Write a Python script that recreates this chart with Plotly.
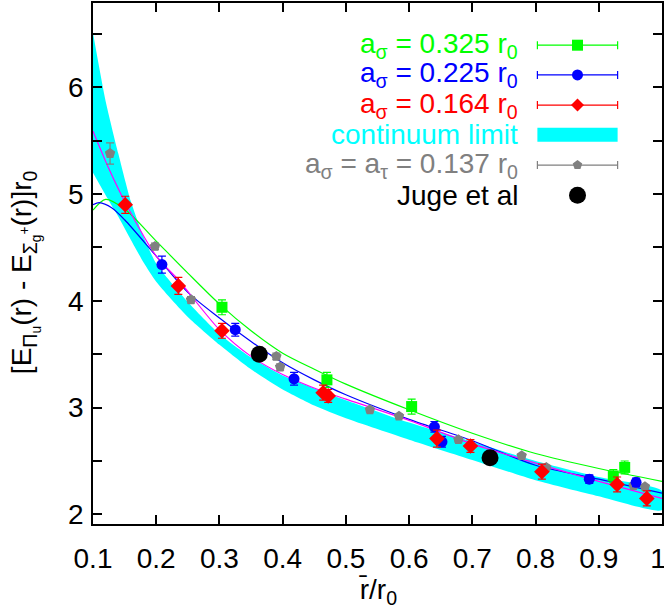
import plotly.graph_objects as go

# ---------------- data ----------------
green_x = [0.304, 0.470, 0.604, 0.923, 0.941]
green_y = [3.94, 3.26, 3.01, 2.36, 2.44]
green_e = [0.07, 0.07, 0.07, 0.06, 0.06]

blue_x = [0.209, 0.325, 0.418, 0.640, 0.652, 0.885, 0.959]
blue_y = [4.34, 3.73, 3.27, 2.82, 2.68, 2.33, 2.30]
blue_e = [0.08, 0.06, 0.06, 0.05, 0.05, 0.04, 0.04]

red_x = [0.151, 0.235, 0.304, 0.464, 0.472, 0.644, 0.697, 0.810, 0.929, 0.976]
red_y = [4.90, 4.14, 3.72, 3.14, 3.11, 2.71, 2.64, 2.40, 2.28, 2.15]
red_e = [0.08, 0.08, 0.07, 0.07, 0.06, 0.08, 0.06, 0.07, 0.07, 0.07]

gray_x = [0.127, 0.198, 0.255, 0.390, 0.396, 0.538, 0.584, 0.678, 0.778, 0.817, 0.955, 0.973]
gray_y = [5.38, 4.51, 4.01, 3.48, 3.38, 2.98, 2.92, 2.70, 2.55, 2.44, 2.27, 2.26]
gray_e = [0.10, 0.03, 0.03, 0.03, 0.03, 0.02, 0.02, 0.02, 0.02, 0.02, 0.02, 0.02]

juge_x = [0.363, 0.728]
juge_y = [3.50, 2.53]

band_x = [0.10, 0.12, 0.14, 0.16, 0.18, 0.20, 0.25, 0.30, 0.35, 0.40, 0.45, 0.50, 0.60, 0.70, 0.80, 0.90, 1.00]
band_hi = [6.51, 5.87, 5.38, 4.93, 4.60, 4.35, 3.99, 3.69, 3.47, 3.30, 3.18, 3.07, 2.86, 2.68, 2.50, 2.35, 2.22]
band_lo = [5.20, 4.99, 4.79, 4.57, 4.36, 4.18, 3.85, 3.59, 3.36, 3.17, 3.02, 2.90, 2.70, 2.51, 2.32, 2.17, 2.04]

green_fit_x = [0.10, 0.12, 0.15, 0.20, 0.25, 0.30, 0.35, 0.40, 0.45, 0.50, 0.60, 0.70, 0.80, 0.90, 1.00]
green_fit_y = [4.85, 4.95, 4.86, 4.56, 4.26, 3.97, 3.72, 3.51, 3.36, 3.22, 2.98, 2.76, 2.57, 2.43, 2.31]

blue_fit_x = [0.10, 0.11, 0.13, 0.15, 0.20, 0.25, 0.30, 0.35, 0.40, 0.45, 0.50, 0.60, 0.70, 0.80, 0.90, 1.00]
blue_fit_y = [4.90, 4.92, 4.87, 4.76, 4.42, 4.08, 3.84, 3.62, 3.42, 3.26, 3.12, 2.89, 2.69, 2.46, 2.33, 2.20]

mag_fit_x = [0.10, 0.125, 0.152, 0.20, 0.2345, 0.30, 0.35, 0.40, 0.46, 0.50, 0.60, 0.70, 0.80, 0.90, 1.00]
mag_fit_y = [5.59, 5.24, 4.91, 4.42, 4.20, 3.73, 3.48, 3.31, 3.16, 3.08, 2.88, 2.66, 2.48, 2.31, 2.15]

x_ticks = [0.1, 0.2, 0.3, 0.4, 0.5, 0.6, 0.7, 0.8, 0.9, 1.0]
x_labels = ["0.1", "0.2", "0.3", "0.4", "0.5", "0.6", "0.7", "0.8", "0.9", "1\u00a0"]
y_ticks = [2, 2.5, 3, 3.5, 4, 4.5, 5, 5.5, 6, 6.5]
y_labels = ["2", " ", "3", " ", "4", " ", "5", " ", "6", " "]

legend_labels = [
    "a<sub>σ</sub> = 0.325 r<sub>0</sub>",
    "a<sub>σ</sub> = 0.225 r<sub>0</sub>",
    "a<sub>σ</sub> = 0.164 r<sub>0</sub>",
    "continuum limit",
    "a<sub>σ</sub> = a<sub>τ</sub> = 0.137 r<sub>0</sub>",
    "Juge et al",
]

x_title = "r\u0304/r<sub>0</sub>"
y_title = "[E<sub>Π<sub>u</sub></sub>(r) - E<sub>Σ<sub>g</sub><sup>+</sup></sub>(r)]r<sub>0</sub>"

# ---------------- styles ----------------
GREEN = "#00ff00"
BLUE = "#0000ff"
RED = "#ff0000"
CYAN = "#00ffff"
GRAY = "#808080"
MAG = "#ff00ff"
FONT = "Liberation Sans"

fig = go.Figure()

# continuum band
fig.add_trace(go.Scatter(
    x=band_x + band_x[::-1], y=band_hi + band_lo[::-1],
    fill="toself", fillcolor=CYAN, line=dict(width=0, shape="spline", smoothing=0.6),
    mode="lines", hoverinfo="skip", showlegend=False))

# fit curves
for fx, fy, col in [(green_fit_x, green_fit_y, GREEN),
                    (blue_fit_x, blue_fit_y, BLUE),
                    (mag_fit_x, mag_fit_y, MAG)]:
    fig.add_trace(go.Scatter(x=fx, y=fy, mode="lines",
                             line=dict(color=col, width=1.2, shape="spline", smoothing=0.8),
                             showlegend=False))

def pts(x, y, e, col, sym, size):
    return go.Scatter(x=x, y=y, mode="markers",
                      marker=dict(color=col, symbol=sym, size=size, line=dict(width=0)),
                      error_y=dict(type="data", array=e, visible=True, color=col,
                                   thickness=1.2, width=4),
                      showlegend=False)

fig.add_trace(pts(gray_x, gray_y, gray_e, GRAY, "pentagon", 11))
fig.add_trace(pts(green_x, green_y, green_e, GREEN, "square", 11))
fig.add_trace(pts(blue_x, blue_y, blue_e, BLUE, "circle", 11))
fig.add_trace(pts(red_x, red_y, red_e, RED, "diamond", 12))
fig.add_trace(go.Scatter(x=juge_x, y=juge_y, mode="markers",
                         marker=dict(color="black", size=17, line=dict(width=0)),
                         showlegend=False))

# ---------------- hand-made key (overlay axes 0..1) ----------------
row_y = [0.919, 0.862, 0.804, 0.747, 0.689, 0.631]
text_x = 0.750
samp_x = 0.8515
samp_half = 0.0705
key_cols = [GREEN, BLUE, RED, CYAN, GRAY, "black"]
key_syms = ["square", "circle", "diamond", None, "pentagon", "circle"]
key_sizes = [11, 11, 10, 0, 10, 17]

for i, lab in enumerate(legend_labels):
    fig.add_annotation(x=text_x, y=row_y[i], xref="x2", yref="y2", text=lab,
                       showarrow=False, xanchor="right", yanchor="middle",
                       font=dict(family=FONT, size=28, color=key_cols[i]))
    if key_syms[i] is None:
        fig.add_shape(type="rect", xref="x2", yref="y2",
                      x0=samp_x - samp_half, x1=samp_x + samp_half,
                      y0=row_y[i] - 0.0135, y1=row_y[i] + 0.0135,
                      fillcolor=CYAN, line=dict(width=0))
    elif i == 5:
        fig.add_trace(go.Scatter(x=[samp_x], y=[row_y[i]], xaxis="x2", yaxis="y2",
                                 mode="markers",
                                 marker=dict(color="black", size=key_sizes[i], symbol=key_syms[i]),
                                 showlegend=False))
    else:
        fig.add_trace(go.Scatter(x=[samp_x], y=[row_y[i]], xaxis="x2", yaxis="y2",
                                 mode="markers",
                                 marker=dict(color=key_cols[i], size=key_sizes[i], symbol=key_syms[i]),
                                 error_x=dict(type="constant", value=samp_half, color=key_cols[i],
                                              thickness=1.2, width=4),
                                 showlegend=False))

# axis titles as annotations (paper coords)
fig.add_annotation(x=-0.119, y=0.484, xref="paper", yref="paper", text=y_title,
                   textangle=-90, showarrow=False, xanchor="center", yanchor="middle",
                   font=dict(family=FONT, size=28, color="black"))
fig.add_annotation(x=0.50, y=-0.130, xref="paper", yref="paper", text=x_title,
                   showarrow=False, xanchor="center", yanchor="middle",
                   font=dict(family=FONT, size=28, color="black"))

axis_common = dict(showline=True, linecolor="black", linewidth=1.5, mirror="allticks",
                   ticks="inside", ticklen=9, tickwidth=1.5, tickcolor="black",
                   showgrid=False, zeroline=False, automargin=False,
                   tickfont=dict(family=FONT, size=28, color="black"))

fig.update_layout(
    width=664, height=609,
    margin=dict(l=93, r=2, t=3, b=85),
    paper_bgcolor="white", plot_bgcolor="white",
    showlegend=False,
    xaxis=dict(range=[0.1, 1.0], tickvals=x_ticks, ticktext=x_labels,
               ticklabelstandoff=9, ticklabeloverflow="allow", **axis_common),
    yaxis=dict(range=[1.91, 6.79], tickvals=y_ticks, ticktext=y_labels,
               ticklabelstandoff=2, ticklabeloverflow="allow", **axis_common),
    xaxis2=dict(overlaying="x", range=[0, 1], visible=False, anchor="y2", automargin=False),
    yaxis2=dict(overlaying="y", range=[0, 1], visible=False, anchor="x2", automargin=False),
)

fig.write_html("out.html", config={"displayModeBar": False},
               post_script="document.body.style.margin='0';")
